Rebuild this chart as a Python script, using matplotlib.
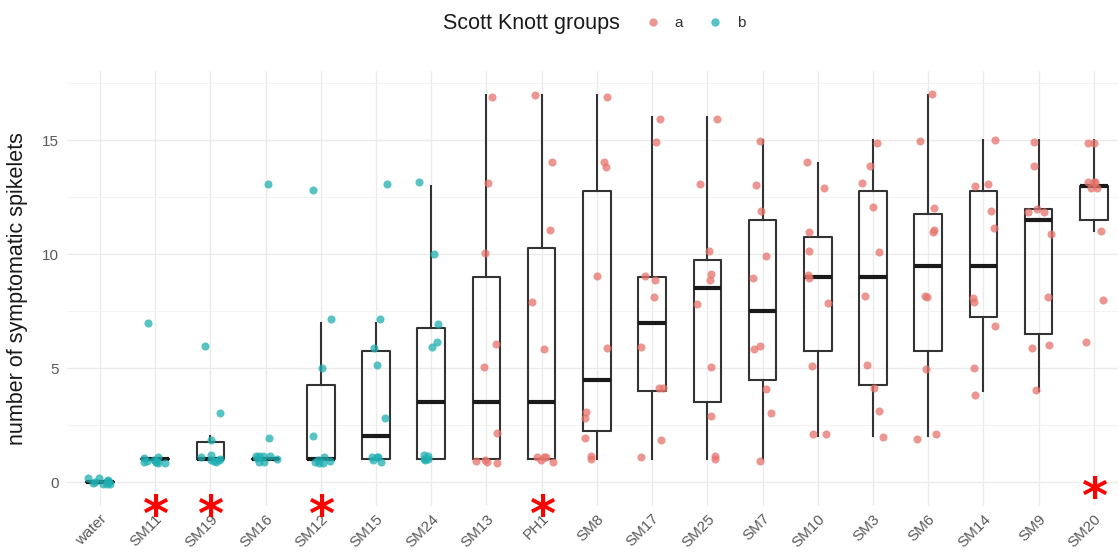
import numpy as np
import matplotlib.pyplot as plt
import matplotlib.transforms as mtransforms
from matplotlib.lines import Line2D

plt.rcParams['font.family'] = ['Liberation Sans', 'DejaVu Sans']

# strains ordered by median count, with their Scott Knott group
strains = ["water", "SM11", "SM19", "SM16", "SM12", "SM15", "SM24", "SM13", "PH1",
           "SM8", "SM17", "SM25", "SM7", "SM10", "SM3", "SM6", "SM14", "SM9", "SM20"]
sk_group = ["b", "b", "b", "b", "b", "b", "b", "a", "a",
            "a", "a", "a", "a", "a", "a", "a", "a", "a", "a"]

# symptomatic spikelets per inoculated head
water = [0, 0, 0, 0, 0, 0, 0, 0, 0, 0]
sm11 = [7, 1, 1, 1, 1, 1, 1, 1, 1, 1]
sm19 = [6, 3, 2, 1, 1, 1, 1, 1, 1, 1]
sm16 = [13, 2, 1, 1, 1, 1, 1, 1, 1, 1]
sm12 = [13, 7, 5, 2, 1, 1, 1, 1, 1, 1]
sm15 = [13, 7, 6, 5, 3, 1, 1, 1, 1, 1]
sm24 = [13, 10, 7, 6, 6, 1, 1, 1, 1, 1]
sm13 = [17, 13, 10, 6, 5, 2, 1, 1, 1, 1]
ph1 = [17, 14, 11, 8, 6, 1, 1, 1, 1, 1]
sm8 = [17, 14, 14, 9, 6, 3, 3, 2, 1, 1]
sm17 = [16, 15, 9, 9, 8, 6, 4, 4, 2, 1]
sm25 = [16, 13, 10, 9, 9, 8, 5, 3, 1, 1]
sm7 = [15, 13, 12, 10, 9, 6, 6, 4, 3, 1]
sm10 = [14, 13, 11, 10, 9, 9, 8, 5, 2, 2]
sm3 = [15, 14, 13, 12, 10, 8, 5, 4, 3, 2]
sm6 = [17, 15, 12, 11, 11, 8, 8, 5, 2, 2]
sm14 = [15, 13, 13, 12, 11, 8, 8, 7, 5, 4]
sm9 = [15, 14, 12, 12, 12, 11, 8, 6, 6, 4]
sm20 = [15, 15, 13, 13, 13, 13, 13, 11, 8, 6]

counts = [water, sm11, sm19, sm16, sm12, sm15, sm24, sm13, ph1,
          sm8, sm17, sm25, sm7, sm10, sm3, sm6, sm14, sm9, sm20]

# significance marks
star_strains = ["SM11", "SM19", "SM12", "PH1", "SM20"]
star_y = [-1.0, -1.0, -1.0, -1.0, -0.2]

group_colors = {"a": "#E8736C", "b": "#1FAFB2"}

fig = plt.figure(figsize=(11.18, 5.56), dpi=100)
ax = fig.add_axes([0.0599, 0.0899, 0.948, 0.783])

pos = np.arange(1, len(strains) + 1)

ax.boxplot(counts, positions=pos, widths=0.5, whis=1.5, showfliers=False,
           showcaps=False,
           boxprops=dict(color='#333333', linewidth=1.5),
           whiskerprops=dict(color='#333333', linewidth=1.5),
           medianprops=dict(color='#1a1a1a', linewidth=3.0),
           zorder=2)

# jittered points (jitter only moves the marks, not the counts)
rng = np.random.default_rng(7)
for i, vals in enumerate(counts):
    vals = np.asarray(vals, dtype=float)
    jx = rng.uniform(-0.22, 0.22, len(vals))
    jy = rng.uniform(-0.18, 0.18, len(vals))
    ax.scatter(pos[i] + jx, vals + jy, s=34, color=group_colors[sk_group[i]],
               alpha=0.75, linewidths=0, zorder=3)

# the asterisk glyph sits high in its text box, so nudge it down onto its spot
star_tr = mtransforms.offset_copy(ax.transData, fig=fig, y=-12, units='dots')
for name, y in zip(star_strains, star_y):
    ax.text(strains.index(name) + 1, y, "*", color='red', fontsize=36,
            ha='center', va='center', family='DejaVu Sans', fontweight='bold',
            transform=star_tr, clip_on=False, zorder=4)

ax.set_xlim(0.4, 19.6)
ax.set_ylim(-1.05, 18.05)
ax.set_xticks(pos)
ax.set_xticklabels(strains, rotation=45, ha='right', rotation_mode='anchor')
ax.set_yticks([0, 5, 10, 15])
ax.set_yticks([2.5, 7.5, 12.5, 17.5], minor=True)
ax.tick_params(axis='both', which='both', length=0, labelsize=11, labelcolor='#5A5A5A')
ax.tick_params(axis='y', pad=6)
ax.tick_params(axis='x', pad=4)
ax.grid(which='major', color='#EBEBEB', linewidth=1.0)
ax.grid(which='minor', axis='y', color='#F3F3F3', linewidth=0.7)
ax.set_axisbelow(True)
for s in ax.spines.values():
    s.set_visible(False)

ax.set_ylabel("number of symptomatic spikelets", fontsize=15.5, color='#1a1a1a', labelpad=10)

# legend across the top
fig.text(443 / 1118, 0.958, "Scott Knott groups", fontsize=15.5, color='#1a1a1a',
         ha='left', va='center')
handles = [Line2D([], [], marker='o', linestyle='', markersize=6, alpha=0.75,
                  markeredgewidth=0, color=group_colors[g]) for g in ["a", "b"]]
fig.legend(handles, ["a", "b"], ncol=2, loc='center left',
           bbox_to_anchor=(632 / 1118, 0.958), frameon=False, fontsize=11,
           handlelength=1.0, handletextpad=0.9, columnspacing=1.6, labelcolor='#333333')

fig.savefig("out.png", dpi=100)
